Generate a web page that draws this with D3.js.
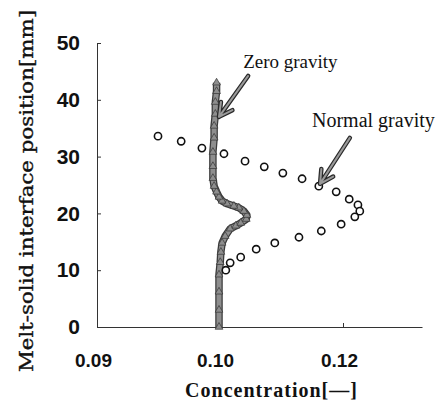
<!DOCTYPE html>
<html lang="en">
<head>
  <meta charset="UTF-8">
  <title>Concentration profile</title>
  <script src="https://d3js.org/d3.v7.min.js"></script>
  <style>
    body { margin: 0; background: #fff; }
    .axis path, .axis line { stroke: #333; stroke-width: 1px; }
    .title { font-family: "DejaVu Serif", serif; font-size: 18px; fill: #111; stroke: #111; stroke-width: 0.35px; }
    .xtitle { font-family: "Liberation Serif", "Times New Roman", serif; font-weight: bold; font-size: 20px; fill: #111; }
    .note { font-family: "Liberation Serif", "Times New Roman", serif; font-size: 19px; fill: #111; }
  </style>
</head>
<body>
  <svg id="chart" width="441" height="403"></svg>

  <script>
    // Normal gravity (open circles)
    const normalConc = [0.0950, 0.0969, 0.0986, 0.1008, 0.1042, 0.1073, 0.1103, 0.1134, 0.1161, 0.1189, 0.1210,
                        0.1224, 0.1227, 0.1219, 0.1197, 0.1165, 0.1129, 0.1090, 0.1060, 0.1035, 0.1018, 0.1011];
    const normalPos  = [33.6, 32.7, 31.5, 30.5, 29.2, 28.2, 27.1, 26.1, 24.8, 23.8, 22.5,
                        21.5, 20.4, 19.4, 18.1, 16.9, 15.8, 14.8, 13.7, 12.3, 11.3, 10.0];

    // Zero gravity (grey triangles, dense)
    const zeroConc = [0.1000, 0.1000, 0.1000, 0.1000, 0.1002, 0.1003, 0.1005, 0.1010, 0.1018, 0.1027, 0.1035,
                      0.1044, 0.1045, 0.1040, 0.1032, 0.1024, 0.1013, 0.1005, 0.1000, 0.0998, 0.0996, 0.0995,
                      0.0995, 0.0995, 0.0996, 0.0996, 0.0997, 0.0997, 0.0998, 0.0998];
    const zeroPos  = [0, 3.0, 6.2, 9.2, 11.4, 13.2, 14.8, 16.0, 17.3, 17.8, 18.3,
                      19.0, 19.7, 20.4, 21.0, 21.3, 21.7, 22.2, 22.9, 23.8, 24.8, 26.2,
                      28.3, 30.8, 33.3, 35.4, 37.5, 39.6, 41.5, 43.0];

    const xTicks = [0.09, 0.10, 0.12];
    const yTicks = [0, 10, 20, 30, 40, 50];

    // labels with arrows: text anchor, arrow start, arrow tip (data units)
    const noteLabels = ["Zero gravity", "Normal gravity"];
    const noteText = [[0.1039, 45.6], [0.1150, 35.2]];
    const noteFrom = [[0.1047, 44.2], [0.1211, 33.3]];
    const noteTo   = [[0.1000, 37.0], [0.1163, 25.2]];

    const svg = d3.select("#chart");

    // the printed axis is not evenly spaced between 0.09 and 0.10, so use a piecewise scale
    const x = d3.scaleLinear().domain([0.09, 0.10, 0.12, 0.1327]).range([97, 219, 343, 422]);
    const y = d3.scaleLinear().domain([0, 50]).range([327, 43]);

    const xAxis = svg.append("g")
      .attr("class", "axis")
      .attr("transform", `translate(0,${y(0)})`)
      .call(d3.axisBottom(x).tickValues(xTicks).tickFormat(d3.format(".2f"))
        .tickSize(-4).tickSizeOuter(0).tickPadding(27));
    xAxis.selectAll(".tick text")
      .attr("dx", -4)
      .style("font-family", "'Liberation Sans', Arial, sans-serif")
      .style("font-weight", "bold").style("font-size", "19px").style("fill", "#111");

    const yAxis = svg.append("g")
      .attr("class", "axis")
      .attr("transform", `translate(${x(0.09)},0)`)
      .call(d3.axisLeft(y).tickValues(yTicks).tickSize(-4).tickSizeOuter(0).tickPadding(17));
    yAxis.selectAll(".tick text")
      .style("font-family", "'Liberation Sans', Arial, sans-serif")
      .style("font-weight", "bold").style("font-size", "21px").style("fill", "#111");

    // zero gravity band
    const zeroData = zeroConc.map((c, i) => [c, zeroPos[i]]);
    const line = d3.line().x(d => x(d[0])).y(d => y(d[1]));

    svg.append("path").datum(zeroData)
      .attr("d", line).attr("fill", "none")
      .attr("stroke", "#3a3a3a").attr("stroke-width", 7.5).attr("stroke-linejoin", "round");
    svg.append("path").datum(zeroData)
      .attr("d", line).attr("fill", "none")
      .attr("stroke", "#8e8e8e").attr("stroke-width", 5).attr("stroke-linejoin", "round");

    svg.selectAll(".tri").data(zeroData).enter().append("path")
      .attr("class", "tri")
      .attr("d", d3.symbol().type(d3.symbolTriangle).size(26))
      .attr("transform", d => `translate(${x(d[0])},${y(d[1])})`)
      .attr("fill", "#8e8e8e").attr("stroke", "#333").attr("stroke-width", 0.7);

    // normal gravity circles
    svg.selectAll(".pt").data(normalConc).enter().append("circle")
      .attr("class", "pt")
      .attr("cx", d => x(d))
      .attr("cy", (d, i) => y(normalPos[i]))
      .attr("r", 3.6)
      .attr("fill", "#fff").attr("stroke", "#111").attr("stroke-width", 1.6);

    // annotation arrows
    noteLabels.forEach((lab, i) => {
      const x0 = x(noteFrom[i][0]), y0 = y(noteFrom[i][1]);
      const x1 = x(noteTo[i][0]), y1 = y(noteTo[i][1]);
      const ang = Math.atan2(y0 - y1, x0 - x1);
      const len = 15, spread = 28 * Math.PI / 180;
      const b1 = [x1 + len * Math.cos(ang - spread), y1 + len * Math.sin(ang - spread)];
      const b2 = [x1 + len * Math.cos(ang + spread), y1 + len * Math.sin(ang + spread)];
      const p = d3.path();
      p.moveTo(x0, y0); p.lineTo(x1, y1);
      p.moveTo(b1[0], b1[1]); p.lineTo(x1, y1); p.lineTo(b2[0], b2[1]);
      svg.append("path").attr("d", p.toString()).attr("fill", "none")
        .attr("stroke", "#2a2a2a").attr("stroke-width", 4.5)
        .attr("stroke-linecap", "round").attr("stroke-linejoin", "round");
      svg.append("path").attr("d", p.toString()).attr("fill", "none")
        .attr("stroke", "#9a9a9a").attr("stroke-width", 2)
        .attr("stroke-linecap", "round").attr("stroke-linejoin", "round");

      svg.append("text").attr("class", "note")
        .attr("x", x(noteText[i][0])).attr("y", y(noteText[i][1]))
        .style("font-size", i === 1 ? "20px" : null)
        .text(lab);
    });

    // axis titles
    svg.append("text").attr("class", "xtitle")
      .attr("x", 185).attr("y", 397)
      .attr("textLength", 172).attr("lengthAdjust", "spacing")
      .text("Concentration[—]");

    svg.append("text").attr("class", "title")
      .attr("transform", "translate(33,372) rotate(-90)")
      .attr("textLength", 362).attr("lengthAdjust", "spacingAndGlyphs")
      .text("Melt-solid interface position[mm]");
  </script>
</body>
</html>
